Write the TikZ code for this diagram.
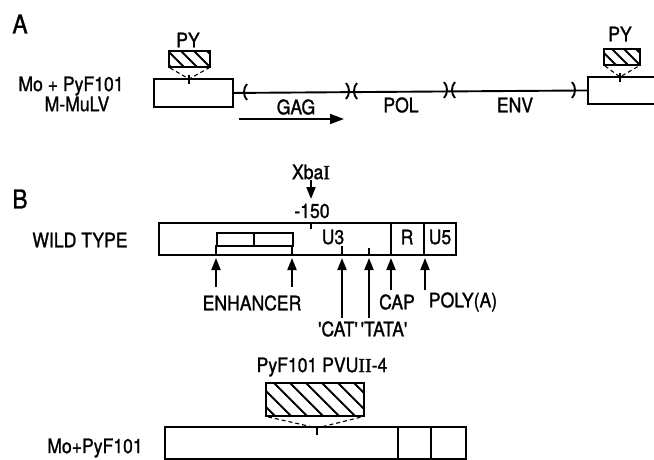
\documentclass[tikz,border=0pt]{standalone}
\usepackage{fontspec}
\setmainfont{TeX Gyre Heros}
\newfontfamily\lab[FakeStretch=0.88,FakeBold=1.2]{TeX Gyre Heros}
\newfontfamily\labser[FakeBold=1.2]{Liberation Serif}
\newfontfamily\dvs{DejaVu Sans}
\usetikzlibrary{arrows.meta}
\begin{document}
\begin{tikzpicture}[x=1pt,y=-1pt,line width=1.9pt,
  txt/.style={font=\lab\fontsize{20}{22}\selectfont, inner sep=0pt},
  big/.style={font=\lab\fontsize{26}{28}\selectfont, inner sep=0pt},
  bx/.style={draw, line width=1.9pt, inner sep=0pt, anchor=north west},
  hatch/.style={bx, path picture={
    \foreach \i in {0,1,...,12}
      \draw[line width=1.9pt] ([xshift={(\i*#1-40)*1pt}]path picture bounding box.north west) -- ++(60pt,-60pt);}},
  arr/.style={-{Triangle[length=12pt,width=9pt]}, line width=1.9pt},
  dsh/.style={dash pattern=on 4pt off 3pt, line width=1.1pt},
  lpar/.pic={\draw (3,-8) .. controls (-1,-4) and (-1,4) .. (3,8);},
  rpar/.pic={\draw (-3,-8) .. controls (1,-4) and (1,4) .. (-3,8);}
]
\useasboundingbox (0,0) rectangle (654,459);

% ---------- Panel A ----------
\node[big] (lblA) at (20,24) {A};
\node[txt] (mo1) at (71,86) {Mo + PyF101};
\node[txt] (mml) at (77,104) {M-MuLV};

\node[txt] (pyL) at (188,40) {PY};
\node[hatch=13, minimum width=41pt, minimum height=16pt] (hL) at (168,50) {};
\node[bx, minimum width=79pt, minimum height=28pt] (ltrL) at (153,78) {};
\coordinate (tL) at (189,79);
\draw (tL) ++(0,-4) -- ++(0,9);
\draw[dsh] ([xshift=2pt]hL.south west) -- (tL) -- ([xshift=-2pt]hL.south east);

\node[txt] (pyR) at (620,34) {PY};
\node[hatch=12, minimum width=36pt, minimum height=16pt] (hR) at (603,48) {};
\node[bx, minimum width=80pt, minimum height=27pt] (ltrR) at (587,76) {};
\coordinate (tR) at (620,77);
\draw (tR) ++(0,-4) -- ++(0,9);
\draw[dsh] ([xshift=2pt]hR.south west) -- (tR) -- ([xshift=-2pt]hR.south east);

\draw (ltrL.east) -- (ltrR.west);
\pic at (244,92) {lpar};
\pic at (349,91) {rpar};
\pic at (354,91) {lpar};
\pic at (447,90) {rpar};
\pic at (452,90) {lpar};
\pic at (575,90) {rpar};

\node[txt] (gag) at (296,107) {GAG};
\node[txt] (pol) at (401,105) {POL};
\node[txt] (env) at (515,105) {ENV};
\coordinate (gs) at (239,119);
\coordinate (ge) at (344,119);
\draw[-{Triangle[length=14pt,width=10pt]}, line width=1.9pt] (gs) -- (ge);

% ---------- Panel B ----------
\node[big] (lblB) at (20,199) {B};
\node[txt] (wtl) at (80,240) {WILD TYPE};

\node[txt] (xba) at (311,172) {Xba{\labser I}};
\coordinate (xt) at (311,199);
\draw[arr] (xba.south) -- (xt);
\node[txt] (m150) at (312,211) {-150};

\node[bx, minimum width=297pt, minimum height=32pt] (wt) at (158,222) {};
\node[bx, minimum width=76pt, minimum height=13pt] (enh) at (216,232) {};
\draw (254,232) -- (254,245);
\draw (216,245) -- (216,254);
\draw (292,245) -- (292,254);
\draw (311,222) -- (311,229);
\draw (342,246) -- (342,254);
\draw (369,248) -- (369,254);
\draw (391,222) -- (391,254);
\draw (424,222) -- (424,254);
\node[txt] (u3) at (333,237) {U3};
\node[txt] (r) at (407,237) {R};
\node[txt] (u5) at (440,237) {U5};

\coordinate (e1b) at (216,287); \coordinate (e1t) at (216,258);
\coordinate (e2b) at (292,287); \coordinate (e2t) at (292,258);
\coordinate (c1b) at (342,318); \coordinate (c1t) at (342,258);
\coordinate (c2b) at (369,318); \coordinate (c2t) at (369,258);
\coordinate (c3b) at (391,290); \coordinate (c3t) at (391,258);
\coordinate (c4b) at (425,290); \coordinate (c4t) at (425,258);
\foreach \a in {e1,e2,c1,c2,c3,c4} \draw[arr] (\a b) -- (\a t);

\node[txt] (enht) at (252,303) {ENHANCER};
\node[txt] (cap) at (397,302) {CAP};
\node[txt] (poly) at (463,302) {POLY(A)};
\node[txt] (cat) at (338,329) {'CAT'};
\node[txt] (tata) at (384,329) {'TATA'};

\node[txt] (pvu) at (322,367) {PyF101 PVU{\labser II}-4};
\node[hatch=16, minimum width=98pt, minimum height=33pt] (hB) at (265,382) {};
\node[bx, minimum width=301pt, minimum height=32pt] (mob) at (164,426) {};
\draw (398,426) -- (398,458);
\draw (431,426) -- (431,458);
\coordinate (tB) at (317,428);
\draw (tB) ++(0,-2) -- ++(0,9);
\draw[dsh] ([xshift=3pt]hB.south west) -- (tB) -- ([xshift=-3pt]hB.south east);
\node[txt] (mo2) at (95,448) {Mo+PyF101};
\end{tikzpicture}
\end{document}
